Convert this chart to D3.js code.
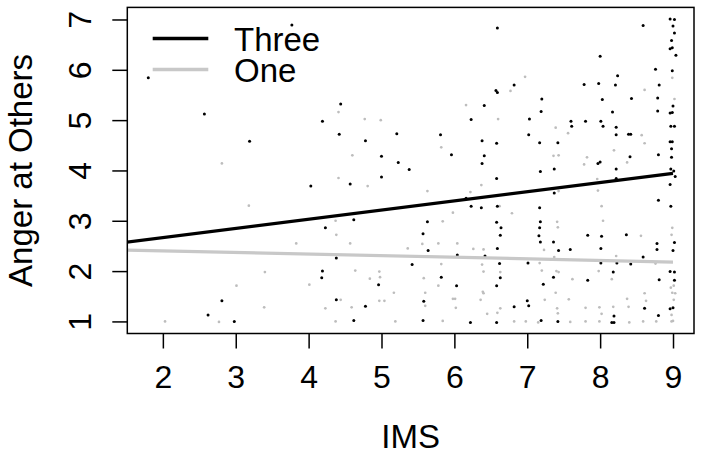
<!DOCTYPE html>
<html>
<head>
<meta charset="utf-8">
<script src="https://cdn.jsdelivr.net/npm/d3@7"></script>
<style>
  body { margin: 0; background: #fff; }
  text { font-family: "Liberation Sans", Arial, Helvetica, sans-serif; fill: #000; }
</style>
</head>
<body>
<div class="chart"></div>
<script>
// group "Three" (black) points, [IMS, anger]
var threePts = [
  [1.80,5.84],[3.77,6.89],[2.57,5.12],[3.19,4.58],
  [6.59,6.83],[6.57,5.59],[6.59,5.55],[4.44,5.32],[4.19,4.98],[6.41,5.29],[6.23,5.01],[4.42,4.72],
  [4.78,4.59],[5.21,4.73],[5.81,4.71],[6.38,4.59],[6.58,4.54],[5.00,4.28],[5.96,4.31],[6.41,4.29],
  [5.23,4.16],[6.38,4.14],[5.38,4.02],
  [8.96,7.01],[9.02,7.00],[9.00,6.87],[9.02,6.73],[8.98,6.58],[8.96,6.42],[8.99,6.44],[9.04,6.29],
  [8.59,6.88],[8.00,6.27],[8.76,6.01],[8.99,5.98],[6.82,5.70],[7.78,5.71],[7.98,5.73],[8.24,5.88],
  [8.21,5.70],[8.81,5.70],[7.20,5.42],[8.03,5.41],[8.43,5.43],[8.79,5.44],[7.19,5.17],[8.17,5.16],
  [8.79,5.18],[9.00,5.28],[8.96,5.14],[8.99,5.15],[7.03,5.02],[7.60,4.98],[7.61,4.88],[7.80,4.98],
  [8.01,4.98],[8.04,4.88],[8.22,4.86],[8.97,4.88],[9.02,4.88],[7.02,4.71],[8.22,4.71],[8.39,4.72],
  [8.42,4.72],[7.17,4.55],[7.42,4.55],[8.96,4.57],[8.99,4.57],[8.98,4.43],[8.41,4.27],[8.80,4.31],
  [8.98,4.26],[7.97,4.14],[8.00,4.17],[7.37,4.03],[8.22,4.03],[8.97,4.03],
  [4.03,3.69],[2.81,1.41],[2.62,1.13],[2.98,1.00],
  [4.57,3.73],[5.00,3.87],[6.58,3.84],[6.16,3.45],[6.23,3.29],[6.37,3.26],[6.59,3.29],[4.62,3.02],
  [4.23,2.86],[5.63,2.98],[6.58,2.97],[5.57,2.74],[5.64,2.41],[6.59,2.45],[6.04,2.32],[6.42,2.30],
  [4.38,2.26],[5.42,2.13],[4.19,2.00],[4.18,1.87],[4.96,1.73],[5.82,1.88],[6.03,1.71],[6.58,1.71],
  [4.38,1.43],[5.58,1.40],[4.78,1.30],[4.62,1.02],[5.57,1.02],[6.22,0.98],[6.58,0.98],
  [7.18,3.98],[9.01,3.99],[9.03,3.88],[8.22,3.84],[7.37,3.55],[8.96,3.72],[8.80,3.41],[7.17,3.26],
  [8.97,3.29],[6.64,2.86],[6.63,2.71],[7.18,2.98],[7.17,2.86],[7.16,2.70],[7.18,2.58],[7.36,2.58],
  [7.43,2.41],[7.59,2.43],[7.83,2.71],[8.02,2.69],[8.36,2.72],[8.78,2.55],[8.78,2.43],[9.02,2.57],
  [9.00,2.41],[8.01,2.45],[8.59,2.28],[6.62,2.15],[6.63,1.87],[7.01,2.16],[7.22,1.74],[7.36,1.88],
  [7.83,1.82],[8.01,2.16],[8.23,2.16],[8.42,2.14],[8.18,1.98],[8.81,1.83],[8.96,1.99],[9.02,1.98],
  [9.02,1.82],[7.00,1.41],[7.02,1.31],[6.82,1.29],[8.61,1.26],[8.96,1.25],[9.00,1.27],[8.19,1.11],
  [8.80,1.12],[7.19,1.02],[7.42,1.00],[8.16,0.98],[8.19,0.98]
];

// group "One" (grey) points
var onePts = [
  [2.81,4.14],[4.41,5.16],[4.77,5.02],[4.99,5.00],[6.16,5.30],[6.60,5.02],[5.82,4.46],[4.60,4.30],
  [8.99,5.84],[6.97,5.86],[6.77,5.58],[8.61,5.60],[9.02,5.42],[7.39,4.85],[7.56,4.74],[8.57,4.70],
  [8.61,4.54],[8.19,4.40],[7.36,4.29],[7.43,4.30],[7.82,4.26],[7.78,4.12],[8.37,4.16],
  [3.18,3.30],[3.83,2.55],[3.40,1.98],[4.01,1.73],[3.01,1.71],[3.39,1.28],[2.03,1.00],[2.77,0.99],
  [4.41,3.85],[4.81,3.69],[5.63,3.59],[6.37,3.71],[6.22,3.57],[5.98,3.16],[4.37,3.00],[4.38,2.72],
  [5.84,2.99],[4.57,2.55],[5.56,2.54],[5.78,2.55],[6.04,2.55],[5.36,2.45],[6.26,2.44],[6.40,2.43],
  [5.82,2.14],[6.38,2.13],[6.40,1.99],[4.64,2.01],[4.97,1.99],[4.98,1.88],[4.84,1.85],[5.58,1.86],
  [5.78,1.71],[5.17,1.57],[5.60,1.57],[6.39,1.59],[6.40,1.56],[4.44,1.43],[4.97,1.41],[5.04,1.41],
  [5.98,1.45],[6.01,1.45],[6.36,1.43],[4.23,1.26],[4.59,1.28],[5.60,1.31],[6.02,1.27],[6.45,1.15],
  [6.59,1.17],[4.37,1.00],[5.19,1.00],[5.84,1.01],
  [7.96,3.83],[7.43,3.59],[7.97,3.60],[6.62,3.29],[6.79,3.15],[8.02,3.29],[7.41,2.98],[7.42,2.87],
  [8.04,3.00],[8.56,2.70],[8.99,2.86],[8.98,2.72],[7.23,2.42],[7.37,2.28],[8.22,2.30],[6.63,1.98],
  [7.17,2.16],[7.20,2.01],[7.40,2.00],[7.43,1.98],[7.62,1.84],[7.98,2.00],[8.16,1.84],[8.76,2.15],
  [9.01,1.71],[8.99,1.57],[9.03,1.56],[8.97,1.67],[7.39,1.57],[7.24,1.43],[7.57,1.44],[8.37,1.45],
  [8.61,1.56],[8.63,1.41],[9.01,1.43],[6.63,1.26],[7.41,1.26],[7.42,1.16],[7.80,1.27],[7.99,1.28],
  [8.18,1.29],[8.39,1.29],[8.02,1.15],[8.98,1.13],[6.82,1.00],[6.98,1.00],[7.15,0.98],[7.59,0.99],
  [7.80,1.00],[7.99,1.00],[8.40,0.98],[8.59,1.00],[8.77,1.00],[8.98,1.00],[9.00,1.01]
];

// fitted lines: endpoints
var fitX  = [1.5, 9];
var threeFit = [2.576, 3.943];
var oneFit   = [2.419, 2.180];

var xTicks = [2, 3, 4, 5, 6, 7, 8, 9];
var yTicks = [1, 2, 3, 4, 5, 6, 7];
var legendNames = ["Three", "One"];

var width = 704, height = 457;
var box = { left: 127.3, right: 694, top: 7.4, bottom: 333.5 };
var fontStack = "'Liberation Sans', Arial, sans-serif";

var x = d3.scaleLinear().domain([1.512, 9.288]).range([box.left, box.right]);
var y = d3.scaleLinear().domain([0.76, 7.24]).range([box.bottom, box.top]);

var svg = d3.select(".chart").append("svg")
    .attr("width", width)
    .attr("height", height);

svg.append("rect").attr("width", width).attr("height", height).attr("fill", "#fff");

svg.append("clipPath").attr("id", "plotclip")
   .append("rect")
   .attr("x", box.left).attr("y", box.top)
   .attr("width", box.right - box.left).attr("height", box.bottom - box.top);

var plot = svg.append("g").attr("clip-path", "url(#plotclip)");

plot.selectAll(".one")
    .data(onePts)
    .enter().append("circle")
    .attr("class", "one")
    .attr("cx", function(d) { return x(d[0]); })
    .attr("cy", function(d) { return y(d[1]); })
    .attr("r", 1.35)
    .attr("fill", "#bdbdbd");

plot.selectAll(".three")
    .data(threePts)
    .enter().append("circle")
    .attr("class", "three")
    .attr("cx", function(d) { return x(d[0]); })
    .attr("cy", function(d) { return y(d[1]); })
    .attr("r", 1.5)
    .attr("fill", "#000");

var line = d3.line()
    .x(function(d) { return x(d[0]); })
    .y(function(d) { return y(d[1]); });

plot.append("path")
    .datum(fitX.map(function(v, i) { return [v, oneFit[i]]; }))
    .attr("d", line)
    .attr("fill", "none")
    .attr("stroke", "#c8c8c8")
    .attr("stroke-width", 3.2);

plot.append("path")
    .datum(fitX.map(function(v, i) { return [v, threeFit[i]]; }))
    .attr("d", line)
    .attr("fill", "none")
    .attr("stroke", "#000")
    .attr("stroke-width", 3.2);

// box
svg.append("rect")
   .attr("x", box.left).attr("y", box.top)
   .attr("width", box.right - box.left).attr("height", box.bottom - box.top)
   .attr("fill", "none").attr("stroke", "#000").attr("stroke-width", 1.5);

// axes (R style, ticks outward, labels parallel to axis)
var xAxis = d3.axisBottom(x).tickValues(xTicks).tickSize(15).tickPadding(0).tickFormat(d3.format("d"));
var gx = svg.append("g")
    .attr("transform", "translate(0," + box.bottom + ")")
    .call(xAxis);
gx.select(".domain").remove();
gx.selectAll("line").attr("stroke", "#000").attr("stroke-width", 1.5);
gx.selectAll("text")
  .attr("y", 54.5).attr("dy", null)
  .style("font-size", "32px")
  .style("font-family", fontStack);

var yAxis = d3.axisLeft(y).tickValues(yTicks).tickSize(15).tickFormat(d3.format("d"));
var gy = svg.append("g")
    .attr("transform", "translate(" + box.left + ",0)")
    .call(yAxis);
gy.select(".domain").remove();
gy.selectAll("line").attr("stroke", "#000").attr("stroke-width", 1.5);
gy.selectAll("text")
  .attr("x", null).attr("dy", null)
  .attr("text-anchor", "middle")
  .attr("transform", "translate(-36,0) rotate(-90)")
  .style("font-size", "32px")
  .style("font-family", fontStack);

// axis titles
svg.append("text")
   .attr("x", (box.left + box.right) / 2)
   .attr("y", 448)
   .attr("text-anchor", "middle")
   .style("font-size", "33px")
   .text("IMS");

svg.append("text")
   .attr("transform", "translate(31.5," + ((box.top + box.bottom) / 2) + ") rotate(-90)")
   .attr("text-anchor", "middle")
   .style("font-size", "33px")
   .text("Anger at Others");

// legend
var legendColors = ["#000", "#c8c8c8"];
var lg = svg.append("g");
legendNames.forEach(function(name, i) {
  var ly = 38.5 + i * 31;
  lg.append("line")
    .attr("x1", 152.7).attr("x2", 208.3)
    .attr("y1", ly).attr("y2", ly)
    .attr("stroke", legendColors[i])
    .attr("stroke-width", 3.5);
  lg.append("text")
    .attr("x", 234)
    .attr("y", ly + 12.3)
    .style("font-size", "33px")
    .text(name);
});
</script>
</body>
</html>
